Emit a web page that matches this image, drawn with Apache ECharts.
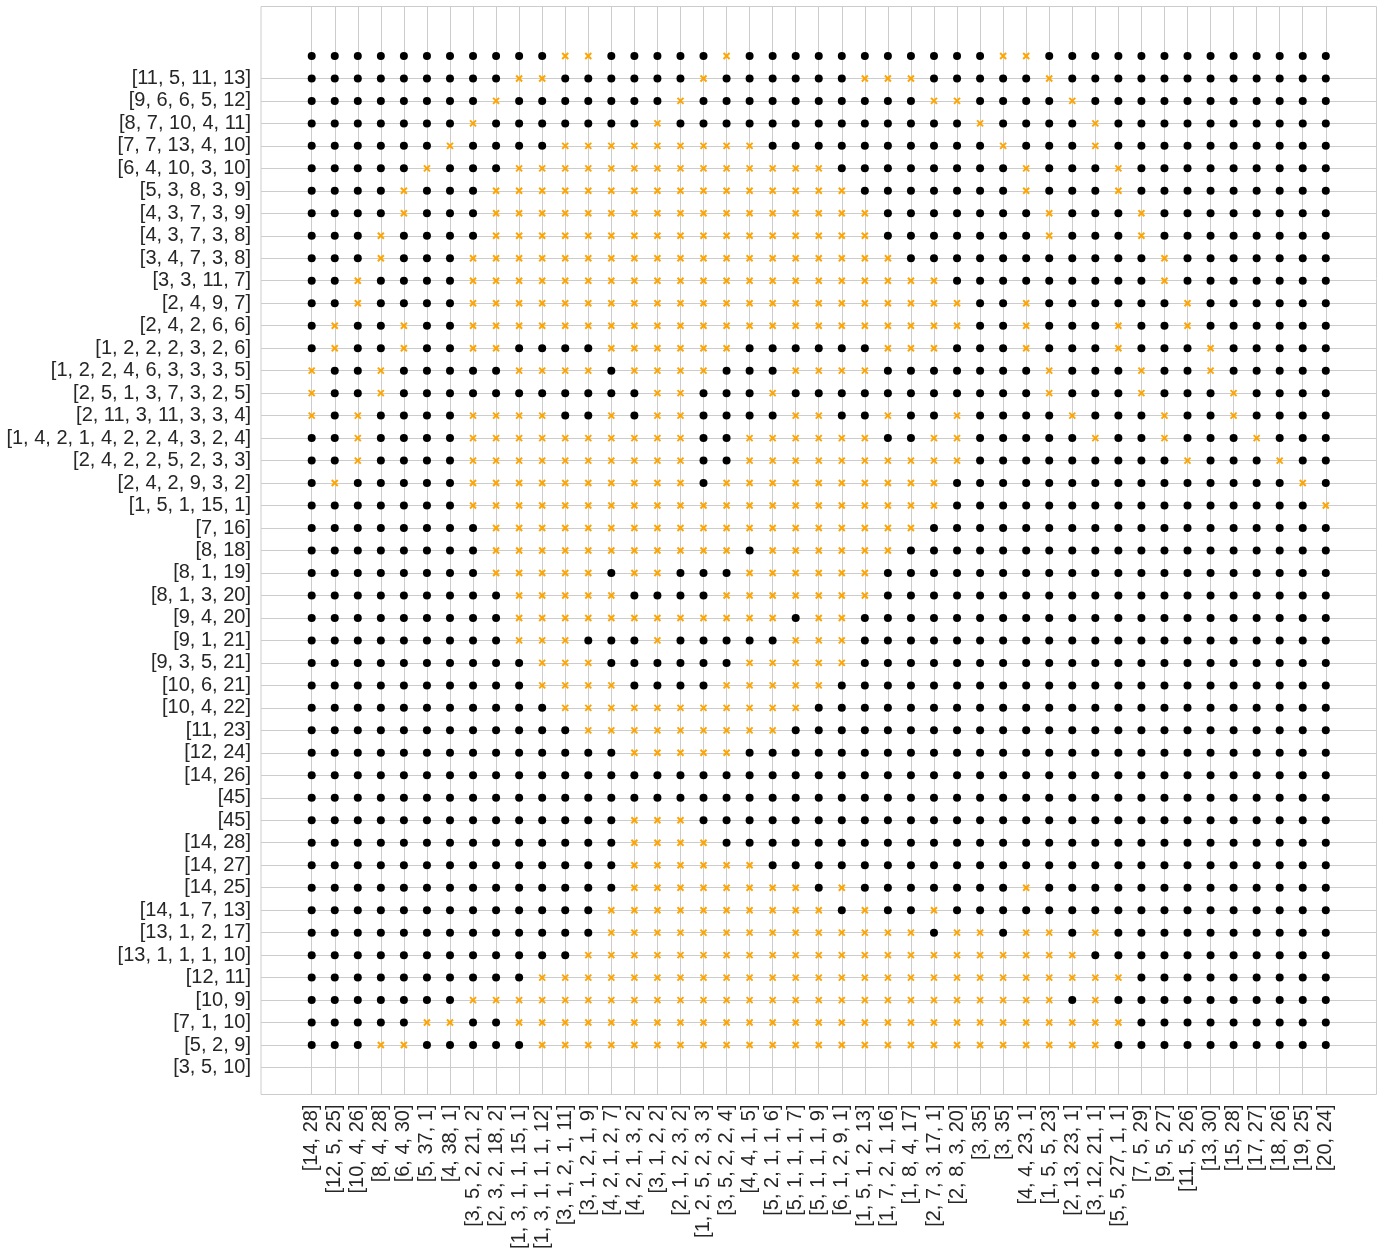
<!DOCTYPE html>
<html>
<head>
<meta charset="utf-8">
<script src="https://cdn.jsdelivr.net/npm/echarts@6/dist/echarts.min.js"></script>
<style>
html,body{margin:0;padding:0;background:#fff;}
#chart{width:1383px;height:1255px;}
</style>
</head>
<body>
<div id="chart"></div>
<script>
// Column clues (x tick labels), left to right
const xLabels = [
  "[14, 28]", "[12, 5, 25]", "[10, 4, 26]", "[8, 4, 28]", "[6, 4, 30]", "[5, 37, 1]", "[4, 38, 1]",
  "[3, 5, 2, 21, 2]", "[2, 3, 2, 18, 2]", "[1, 3, 1, 1, 15, 1]", "[1, 3, 1, 1, 1, 12]", "[3, 1, 2, 1, 11]",
  "[3, 1, 2, 1, 9]", "[4, 2, 1, 2, 7]", "[4, 2, 1, 3, 2]", "[3, 1, 2, 2]", "[2, 1, 2, 3, 2]",
  "[1, 2, 5, 2, 3, 3]", "[3, 5, 2, 2, 4]", "[4, 4, 1, 5]", "[5, 2, 1, 1, 6]", "[5, 1, 1, 1, 7]",
  "[5, 1, 1, 1, 9]", "[6, 1, 2, 9, 1]", "[1, 5, 1, 2, 13]", "[1, 7, 2, 1, 16]", "[1, 8, 4, 17]",
  "[2, 7, 3, 17, 1]", "[2, 8, 3, 20]", "[3, 35]", "[3, 35]", "[4, 4, 23, 1]", "[1, 5, 5, 23]",
  "[2, 13, 23, 1]", "[3, 12, 21, 1]", "[5, 5, 27, 1, 1]", "[7, 5, 29]", "[9, 5, 27]", "[11, 5, 26]",
  "[13, 30]", "[15, 28]", "[17, 27]", "[18, 26]", "[19, 25]", "[20, 24]"
];

// Row clues (y tick labels), top to bottom (drawn one row below the marks, as in the reference)
const yLabels = [
  "[11, 5, 11, 13]", "[9, 6, 6, 5, 12]", "[8, 7, 10, 4, 11]", "[7, 7, 13, 4, 10]", "[6, 4, 10, 3, 10]",
  "[5, 3, 8, 3, 9]", "[4, 3, 7, 3, 9]", "[4, 3, 7, 3, 8]", "[3, 4, 7, 3, 8]", "[3, 3, 11, 7]",
  "[2, 4, 9, 7]", "[2, 4, 2, 6, 6]", "[1, 2, 2, 2, 3, 2, 6]", "[1, 2, 2, 4, 6, 3, 3, 3, 5]",
  "[2, 5, 1, 3, 7, 3, 2, 5]", "[2, 11, 3, 11, 3, 3, 4]", "[1, 4, 2, 1, 4, 2, 2, 4, 3, 2, 4]",
  "[2, 4, 2, 2, 5, 2, 3, 3]", "[2, 4, 2, 9, 3, 2]", "[1, 5, 1, 15, 1]", "[7, 16]", "[8, 18]",
  "[8, 1, 19]", "[8, 1, 3, 20]", "[9, 4, 20]", "[9, 1, 21]", "[9, 3, 5, 21]", "[10, 6, 21]",
  "[10, 4, 22]", "[11, 23]", "[12, 24]", "[14, 26]", "[45]", "[45]", "[14, 28]", "[14, 27]",
  "[14, 25]", "[14, 1, 7, 13]", "[13, 1, 2, 17]", "[13, 1, 1, 1, 10]", "[12, 11]", "[10, 9]",
  "[7, 1, 10]", "[5, 2, 9]", "[3, 5, 10]"
];

// Cell states: '#' = black dot, 'x' = orange cross (blocks of 5 columns)
const gridRows = [
  "##### ##### #xx## ###x# ##### ##### xx### ##### #####",
  "##### ####x x#### ##x## ####x xx### ##x## ##### #####",
  "##### ###x# ##### #x### ##### ##xx# ###x# ##### #####",
  "##### ##x## ##### x#### ##### ####x ####x ##### #####",
  "##### #x### #xxxx xxxxx ##### ##### x###x ##### #####",
  "##### x###x xxxxx xxxxx xxx## ##### #x### x#### #####",
  "####x ###xx xxxxx xxxxx xxxx# ##### #x### x#### #####",
  "####x ###xx xxxxx xxxxx xxxxx ##### ##x## #x### #####",
  "###x# ###xx xxxxx xxxxx xxxxx ##### ##x## #x### #####",
  "###x# ##xxx xxxxx xxxxx xxxxx x#### ##### ##x## #####",
  "##x## ##xxx xxxxx xxxxx xxxxx xxx## ##### ##x## #####",
  "##x## ##xxx xxxxx xxxxx xxxxx xxxx# #x### ###x# #####",
  "#x##x ##xxx xxxxx xxxxx xxxxx xxxx# #x### x##x# #####",
  "#x##x ##xx# ###xx xxxx# ##### xxx## #x### x###x #####",
  "x##x# ####x xxx#x xxx## #xxxx ##### ##x## #x##x #####",
  "x##x# ##### ##### xx### x#### ##### ##x## #x### x####",
  "x#x## ##xxx x##x# xx### #xx## x##x# ###x# ##x## x####",
  "##x## ##xxx xxxxx xx##x xxxxx ##xx# ####x ##x## #x###",
  "##x## ##xxx xxxxx xx##x xxxxx xxxx# ##### ###x# ##x##",
  "#x### ##xxx xxxxx xx#xx xxxxx xxx## ##### ##### ###x#",
  "##### ##xxx xxxxx xxxxx xxxxx xxx## ##### ##### ####x",
  "##### ###xx xxxxx xxxxx xxxxx xx### ##### ##### #####",
  "##### ###xx xxxxx xxxx# xxxxx x#### ##### ##### #####",
  "##### ###xx xxx#x x###x xxxxx ##### ##### ##### #####",
  "##### ####x xxxx# ###xx xxxxx ##### ##### ##### #####",
  "##### ####x xxxxx xxxxx x#xx# ##### ##### ##### #####",
  "##### ####x xx### x#### #xxx# ##### ##### ##### #####",
  "##### ##### xxx## ####x xxxx# ##### ##### ##### #####",
  "##### ##### xxxx# ###xx xxx## ##### ##### ##### #####",
  "##### ##### #xxxx xxxxx xx### ##### ##### ##### #####",
  "##### ##### ##xxx xxxxx x#### ##### ##### ##### #####",
  "##### ##### ####x xxxx# ##### ##### ##### ##### #####",
  "##### ##### ##### ##### ##### ##### ##### ##### #####",
  "##### ##### ##### ##### ##### ##### ##### ##### #####",
  "##### ##### ####x xx### ##### ##### ##### ##### #####",
  "##### ##### ####x xxx## ##### ##### ##### ##### #####",
  "##### ##### ####x xxxxx ##### ##### ##### ##### #####",
  "##### ##### ####x xxxxx xx#x# ##### #x### ##### #####",
  "##### ##### ###xx xxxxx xxx#x ##x## ##### ##### #####",
  "##### ##### ###xx xxxxx xxxxx xx#xx #xx#x ##### #####",
  "##### ##### ##xxx xxxxx xxxxx xxxxx xxxx# ##### #####",
  "##### ##### xxxxx xxxxx xxxxx xxxxx xxxxx x#### #####",
  "##### ##xxx xxxxx xxxxx xxxxx xxxxx xxx#x ##### #####",
  "##### xx##x xxxxx xxxxx xxxxx xxxxx xxxxx x#### #####",
  "###xx ##### xxxxx xxxxx xxxxx xxxxx xxxxx ##### #####"
];

const filled = [], crossed = [];
gridRows.forEach((row, r) => {
  const cells = row.replace(/ /g, '');
  for (let c = 0; c < cells.length; c++) {
    if (cells[c] === '#') filled.push([c, r]);
    else crossed.push([c, r]);
  }
});

const xTicks = xLabels.map((_, i) => i);
const yTicks = yLabels.map((_, i) => i + 1);
const FONT = '"Liberation Sans", Arial, sans-serif';

const chart = echarts.init(document.getElementById('chart'), null, {renderer: 'canvas'});
chart.setOption({
  animation: false,
  backgroundColor: '#ffffff',
  grid: {
    left: 261, top: 6.5, width: 1115.5, height: 1088,
    show: true, borderColor: '#cccccc', borderWidth: 1, backgroundColor: 'transparent'
  },
  xAxis: {
    type: 'value', min: -2.2, max: 46.2,
    axisLine: {show: false}, axisTick: {show: false, customValues: xTicks},
    splitLine: {show: true, lineStyle: {color: '#cccccc', width: 1}},
    axisLabel: {
      customValues: xTicks, rotate: 90, margin: 10,
      fontFamily: FONT, fontSize: 20, color: '#262626',
      formatter: v => xLabels[Math.round(v)] || ''
    }
  },
  yAxis: {
    type: 'value', inverse: true, min: -2.2, max: 46.2,
    axisLine: {show: false}, axisTick: {show: false, customValues: yTicks},
    splitLine: {show: true, lineStyle: {color: '#cccccc', width: 1}},
    axisLabel: {
      customValues: yTicks, margin: 10,
      fontFamily: FONT, fontSize: 20, color: '#262626',
      formatter: v => yLabels[Math.round(v) - 1] || ''
    }
  },
  series: [
    {
      type: 'scatter', data: filled, symbol: 'circle', symbolSize: 8,
      itemStyle: {color: '#000000', opacity: 1}, silent: true
    },
    {
      type: 'scatter', data: crossed, symbol: 'path://M0,0L10,10M10,0L0,10', symbolSize: 6,
      itemStyle: {color: 'rgba(0,0,0,0)', borderColor: '#ffa500', borderWidth: 2, opacity: 1}, silent: true
    }
  ]
});
</script>
</body>
</html>
